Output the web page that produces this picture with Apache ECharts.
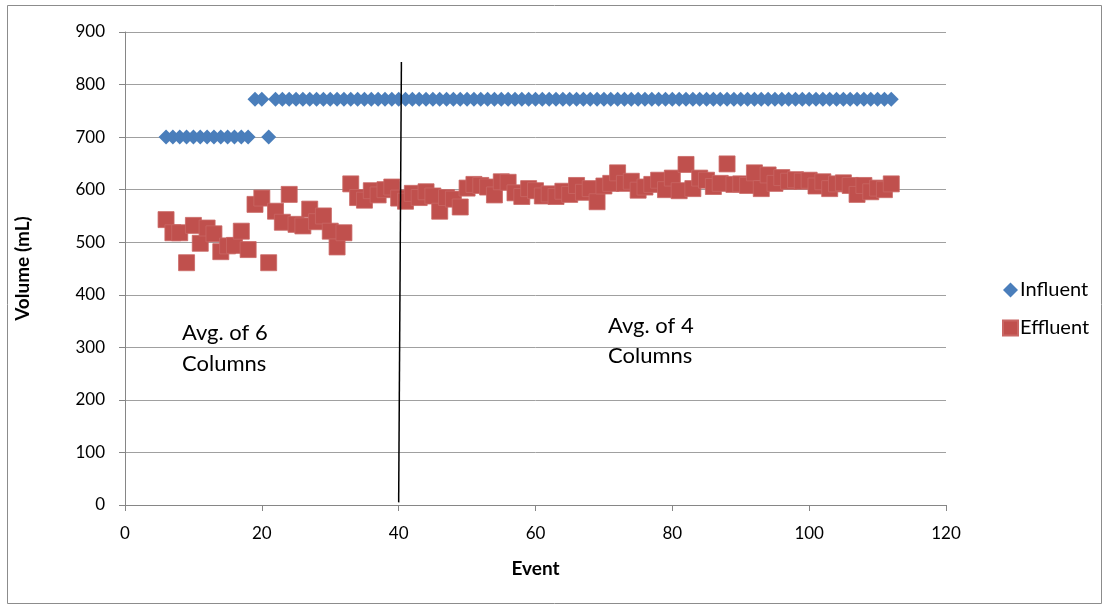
<!DOCTYPE html>
<html>
<head>
<meta charset="utf-8">
<script src="https://cdn.jsdelivr.net/npm/echarts@6/dist/echarts.min.js"></script>
<style>
  html, body { margin: 0; padding: 0; background: #fff; }
  #chart { width: 1105px; height: 607px; }
</style>
</head>
<body>
<div id="chart"></div>
<script>
// Influent volume per event (mL)
const influentEvents = [6,7,8,9,10,11,12,13,14,15,16,17,18,19,20,21,
  22,23,24,25,26,27,28,29,30,31,32,33,34,35,36,37,38,39,40,41,42,43,44,45,46,47,48,49,50,
  51,52,53,54,55,56,57,58,59,60,61,62,63,64,65,66,67,68,69,70,71,72,73,74,75,76,77,78,79,80,
  81,82,83,84,85,86,87,88,89,90,91,92,93,94,95,96,97,98,99,100,101,102,103,104,105,106,107,108,109,110,111,112];
const influentValues = [700,700,700,700,700,700,700,700,700,700,700,700,700,772,772,700,
  772,772,772,772,772,772,772,772,772,772,772,772,772,772,772,772,772,772,772,772,772,772,772,772,772,772,772,772,772,
  772,772,772,772,772,772,772,772,772,772,772,772,772,772,772,772,772,772,772,772,772,772,772,772,772,772,772,772,772,772,
  772,772,772,772,772,772,772,772,772,772,772,772,772,772,772,772,772,772,772,772,772,772,772,772,772,772,772,772,772,772,772,772];

// Effluent volume per event (mL), events 6..112
const effluentEvents = influentEvents;
const effluentValues = [543,518,518,461,532,498,527,516,482,493,494,521,486,572,584,461,
  559,538,591,534,531,563,539,550,521,491,518,611,585,580,598,590,600,605,584,578,593,585,596,588,559,585,582,567,603,
  610,608,605,590,615,614,594,587,602,598,588,592,587,597,591,608,595,602,577,607,612,632,612,616,599,605,610,618,600,622,
  598,648,602,622,618,606,612,649,610,611,608,632,602,628,612,623,616,619,616,618,607,615,602,611,613,608,591,608,596,603,600,611];

// Divider between the 6-column and 4-column periods
const dividerX = [40, 40.4];
const dividerY = [5, 843];

// Axis ticks
const xTicks = { min: 0, max: 120, step: 20 };
const yTicks = { min: 0, max: 900, step: 100 };

const pair = (xs, ys) => xs.map((x, i) => [x, ys[i]]);

const FONT = 'Lato, "Open Sans", sans-serif';
const chart = echarts.init(document.getElementById('chart'), null, { renderer: 'canvas' });

chart.setOption({
  backgroundColor: '#ffffff',
  animation: false,
  textStyle: { fontFamily: FONT, color: '#000' },
  grid: { left: 125, right: 159, top: 32, bottom: 102, containLabel: false },
  xAxis: {
    type: 'value',
    min: xTicks.min, max: xTicks.max, interval: xTicks.step,
    name: 'Event', nameLocation: 'middle', nameGap: 54,
    nameTextStyle: { fontFamily: FONT, fontSize: 19, fontWeight: 'bold', color: '#000' },
    axisLine: { show: true, onZero: false, lineStyle: { color: '#868686', width: 1 } },
    axisTick: { show: true, inside: false, length: 6, lineStyle: { color: '#868686' } },
    axisLabel: { fontFamily: FONT, fontSize: 17, color: '#000', margin: 20 },
    splitLine: { show: false }
  },
  yAxis: {
    type: 'value',
    min: yTicks.min, max: yTicks.max, interval: yTicks.step,
    name: 'Volume (mL)', nameLocation: 'middle', nameGap: 93, nameRotate: 90,
    nameTextStyle: { fontFamily: FONT, fontSize: 19, fontWeight: 'bold', color: '#000' },
    axisLine: { show: true, lineStyle: { color: '#868686', width: 1 } },
    axisTick: { show: true, inside: false, length: 6, lineStyle: { color: '#868686' } },
    axisLabel: { fontFamily: FONT, fontSize: 17, color: '#000', margin: 20 },
    splitLine: { show: true, lineStyle: { color: '#a0a0a0', width: 1 } }
  },
  legend: {
    orient: 'vertical',
    left: 997, top: 275,
    itemGap: 18, itemWidth: 15, itemHeight: 15,
    textStyle: { fontFamily: FONT, fontSize: 20, color: '#000', padding: [0, 0, 0, -3] },
    data: [
      { name: 'Influent', icon: 'diamond' },
      { name: 'Effluent', icon: 'rect' }
    ]
  },
  graphic: [
    {
      type: 'rect', silent: true, z: -1,
      shape: { x: 7.5, y: 5.5, width: 1094, height: 598 },
      style: { fill: 'none', stroke: '#8c8c8c', lineWidth: 1 }
    },
    {
      type: 'text', left: 182, top: 317,
      style: { text: 'Avg. of 6\nColumns', font: '22px ' + FONT, fill: '#000', lineHeight: 31 }
    },
    {
      type: 'text', left: 608, top: 311,
      style: { text: 'Avg. of 4\nColumns', font: '22px ' + FONT, fill: '#000', lineHeight: 30 }
    }
  ],
  series: [
    {
      name: 'Influent',
      type: 'scatter',
      symbol: 'diamond',
      symbolSize: [15, 15],
      itemStyle: { color: '#4a7ebb', opacity: 1 },
      data: pair(influentEvents, influentValues),
      z: 3
    },
    {
      name: 'Effluent',
      type: 'scatter',
      symbol: 'rect',
      symbolSize: 16,
      itemStyle: { color: '#c0504d', borderColor: '#c96764', borderWidth: 0.8, opacity: 1 },
      data: pair(effluentEvents, effluentValues),
      z: 3
    },
    {
      name: 'divider',
      type: 'line',
      data: pair(dividerX, dividerY),
      symbol: 'none',
      lineStyle: { color: '#000', width: 1.5 },
      z: 4,
      silent: true
    }
  ]
});
</script>
</body>
</html>
